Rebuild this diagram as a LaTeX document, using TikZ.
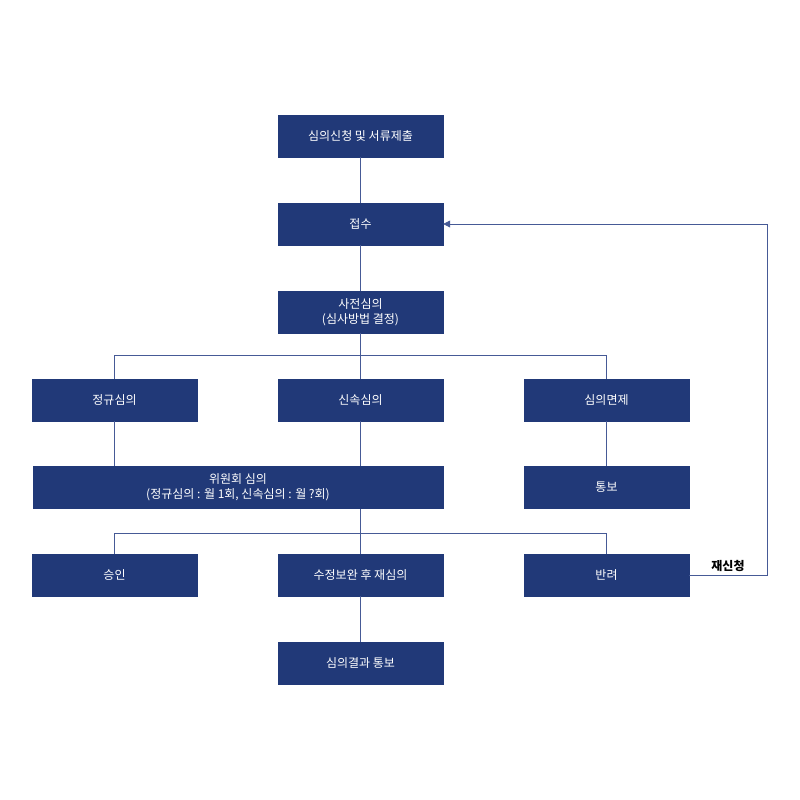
\documentclass[tikz,border=0pt]{standalone}
\usepackage{fontspec}
\setmainfont{Noto Sans CJK KR}
\usetikzlibrary{arrows.meta}
\definecolor{navy}{RGB}{33,57,120}
\definecolor{ln}{RGB}{70,90,150}
\begin{document}
\begin{tikzpicture}[x=1pt,y=-1pt,
 box/.style={fill=navy,draw=navy,text=white,minimum width=165pt,minimum height=42pt,inner sep=0pt,align=center,font=\fontsize{12}{15}\selectfont},
 wbox/.style={box,minimum width=410pt},
 con/.style={draw=ln,line width=0.8pt}]
\useasboundingbox (0,0) rectangle (800,800);
\node[box] (a) at (360.5,136) {심의신청 및 서류제출};
\node[box] (b) at (360.5,224) {접수};
\node[box] (c) at (360.5,312) {사전심의\\(심사방법 결정)};
\node[box] (d1) at (114.5,400) {정규심의};
\node[box] (d2) at (360.5,400) {신속심의};
\node[box] (d3) at (606.5,400) {심의면제};
\node[wbox] (e) at (238,487.5) {위원회 심의\\(정규심의 : 월 1회, 신속심의 : 월 ?회)};
\node[box] (e3) at (606.5,487.5) {통보};
\node[box] (f1) at (114.5,575) {승인};
\node[box] (f2) at (360.5,575) {수정보완 후 재심의};
\node[box] (f3) at (606.5,575) {반려};
\node[box] (g) at (360.5,663) {심의결과 통보};
\coordinate (r1) at (767,575);
\coordinate (r2) at (767,224);
\draw[con] (a) -- (b);
\draw[con] (b) -- (c);
\draw[con] (c.south) -- (d2.north);
\draw[con] (d1.north) -- (114.5,355) -- (606.5,355) -- (d3.north);
\draw[con] (d1.south) -- (114.5,466);
\draw[con] (d2.south) -- (360.5,466);
\draw[con] (d3) -- (e3);
\draw[con] (360.5,509) -- (f2.north);
\draw[con] (f1.north) -- (114.5,533) -- (606.5,533) -- (f3.north);
\draw[con] (f2) -- (g);
\draw[con,-{Triangle[length=7pt,width=7pt]}] (f3.east) -- (r1) -- (r2) -- (b.east);
\node[font=\fontsize{12}{14}\selectfont\bfseries,text=black] (lbl) at (728,566) {재신청};
\end{tikzpicture}
\end{document}
